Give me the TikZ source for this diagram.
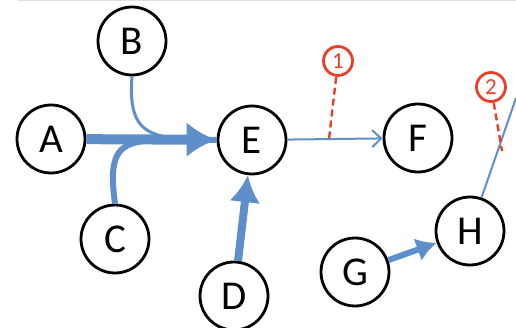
\documentclass[tikz,border=0pt]{standalone}
\usepackage{fontspec}
\setmainfont{Carlito}
\usetikzlibrary{arrows.meta}
\definecolor{eblue}{RGB}{95,143,202}
\definecolor{lred}{RGB}{232,64,40}
\begin{document}
\begin{tikzpicture}[x=1pt,y=-1pt,
  vert/.style={circle,draw=black,line width=2.8pt,minimum size=68pt,inner sep=0pt,font=\fontsize{41}{41}\selectfont},
  mark1/.style={circle,draw=lred,line width=2.8pt,minimum size=29pt,inner sep=0pt,text=lred,font=\fontsize{23}{23}\selectfont},
  edge/.style={draw=eblue},
  pointer/.style={draw=lred,line width=2.4pt,dash pattern=on 7pt off 4pt}]
\useasboundingbox (0,0) rectangle (516,328);
\draw[black!12,line width=1.2pt] (18,0.6) -- (516,0.6);
% nodes
\node[vert] (A) at (51,139) {A};
\node[vert] (B) at (132,41) {B};
\node[vert] (C) at (115,239) {C};
\node[vert] (D) at (234,296) {D};
\node[vert] (E) at (252,140) {E};
\node[vert] (F) at (418,138) {F};
\node[vert] (G) at (355,272) {G};
\node[vert] (H) at (470,231) {H};
\node[mark1] (L1) at (338,61) {1};
\node[mark1] (L2) at (491,87) {2};
\coordinate (m1) at (329,139);
\coordinate (m2) at (502,151);
\coordinate (Hout) at (516,98);
% connectors
\draw[edge,line width=3pt] (B.south) .. controls (129,118) and (138,135) .. (175,138) -- (E.west);
\draw[edge,line width=6pt] (C.north) .. controls (108,152) and (118,142) .. (155,140) -- (E.west);
\draw[edge,line width=10pt,-{Latex[length=30pt,width=35pt]}] (A) -- (E);
\draw[edge,line width=8pt,-{Latex[length=27pt,width=31pt]}] (D) -- (E);
\draw[edge,line width=2pt,-{Straight Barb[length=9pt,width=17pt,line width=2pt]}] (E) -- (F);
\draw[edge,line width=6pt,-{Latex[length=20pt,width=24pt]}] (G) -- (H);
\draw[edge,line width=2pt] (H) -- (Hout);
\draw[pointer] (L1) -- (m1);
\draw[pointer] (L2) -- (m2);
\end{tikzpicture}
\end{document}
